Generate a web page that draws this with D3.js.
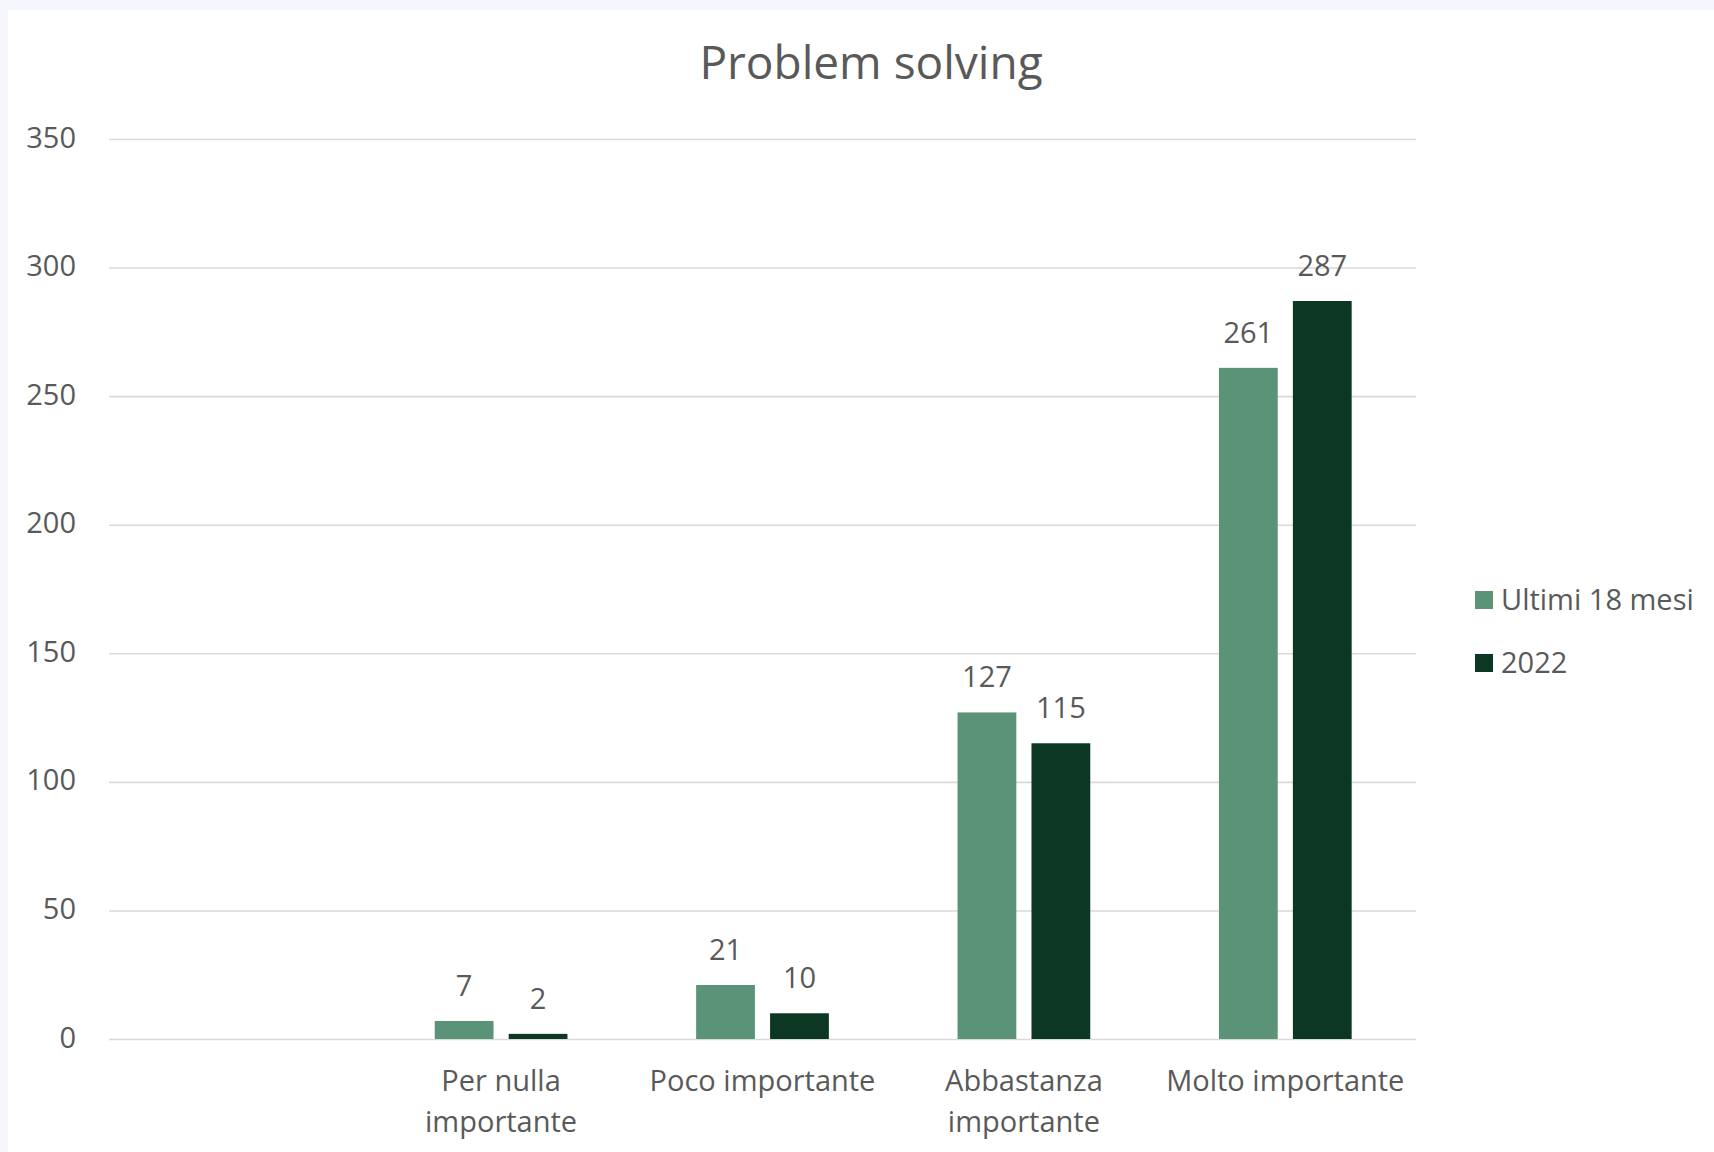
<!DOCTYPE html>
<html>
<head>
<meta charset="utf-8">
<script src="https://cdn.jsdelivr.net/npm/d3@7"></script>
<style>
  html, body { margin: 0; padding: 0; background: #f5f7fc; }
  svg { display: block; }
  text { font-family: "Open Sans", "Noto Sans", sans-serif; fill: #595959; }
</style>
</head>
<body>
<svg id="chart" width="1714" height="1152"></svg>
<script>
// Survey answers on the importance of problem solving
const categories = ["", "Per nulla importante", "Poco importante", "Abbastanza importante", "Molto importante"];
const categoryLines = [[], ["Per nulla", "importante"], ["Poco importante"], ["Abbastanza", "importante"], ["Molto importante"]];
const seriesNames = ["Ultimi 18 mesi", "2022"];
const ultimi18Mesi = [null, 7, 21, 127, 261];
const anno2022 = [null, 2, 10, 115, 287];
const yTicks = [0, 50, 100, 150, 200, 250, 300, 350];
const colors = ["#5b9379", "#0c3823"];

const svg = d3.select("#chart");

// white chart area
svg.append("rect").attr("x", 8).attr("y", 10).attr("width", 1706).attr("height", 1142).attr("fill", "#ffffff");

const plot = { left: 109, right: 1416, top: 139, bottom: 1039 };

const x0 = d3.scaleBand().domain(categories).range([plot.left, plot.right]).padding(0);
const x1 = d3.scaleBand().domain(seriesNames).range([0, x0.bandwidth()])
  .paddingInner(0.205).paddingOuter(0.87);
const y = d3.scaleLinear().domain([0, 350]).range([plot.bottom, plot.top]);
const color = d3.scaleOrdinal().domain(seriesNames).range(colors);

// title
svg.append("text")
  .attr("x", 871).attr("y", 79)
  .attr("text-anchor", "middle")
  .style("font-size", "46px")
  .text("Problem solving");

// gridlines + y labels
const yAxis = d3.axisLeft(y).tickValues(yTicks).tickSize(-(plot.right - plot.left)).tickPadding(33);
const gy = svg.append("g").attr("transform", `translate(${plot.left},0)`).call(yAxis);
gy.select(".domain").remove();
gy.selectAll(".tick line").attr("stroke", "#d9d9d9").attr("stroke-width", 1.6);
gy.selectAll(".tick text")
  .style("font-size", "29px")
  .attr("fill", "#595959")
  .attr("dy", "0.28em");

// bars
const rows = categories.map((c, i) => ({
  cat: c,
  values: [
    { name: seriesNames[0], value: ultimi18Mesi[i] },
    { name: seriesNames[1], value: anno2022[i] }
  ].filter(d => d.value !== null)
}));

const groups = svg.append("g").selectAll("g").data(rows).join("g")
  .attr("transform", d => `translate(${x0(d.cat)},0)`);

groups.selectAll("rect").data(d => d.values).join("rect")
  .attr("x", d => x1(d.name))
  .attr("y", d => y(d.value))
  .attr("width", x1.bandwidth())
  .attr("height", d => y(0) - y(d.value))
  .attr("fill", d => color(d.name));

groups.selectAll("text.val").data(d => d.values).join("text")
  .attr("class", "val")
  .attr("x", d => x1(d.name) + x1.bandwidth() / 2)
  .attr("y", d => y(d.value) - 25)
  .attr("text-anchor", "middle")
  .style("font-size", "29px")
  .text(d => d.value);

// category labels
const xl = svg.append("g");
categories.forEach((c, i) => {
  const t = xl.append("text")
    .attr("x", x0(c) + x0.bandwidth() / 2)
    .attr("y", 1091)
    .attr("text-anchor", "middle")
    .style("font-size", "29px");
  categoryLines[i].forEach((line, j) => {
    t.append("tspan").attr("x", x0(c) + x0.bandwidth() / 2).attr("dy", j === 0 ? 0 : 41).text(line);
  });
});

// legend
const legend = svg.append("g").attr("transform", "translate(1475,600)");
seriesNames.forEach((s, i) => {
  const g = legend.append("g").attr("transform", `translate(0,${i * 63})`);
  g.append("rect").attr("x", 0).attr("y", -9).attr("width", 18).attr("height", 18).attr("fill", color(s));
  g.append("text").attr("x", 26).attr("y", 0).attr("dy", "0.36em")
    .style("font-size", "29px").text(s);
});
</script>
</body>
</html>
